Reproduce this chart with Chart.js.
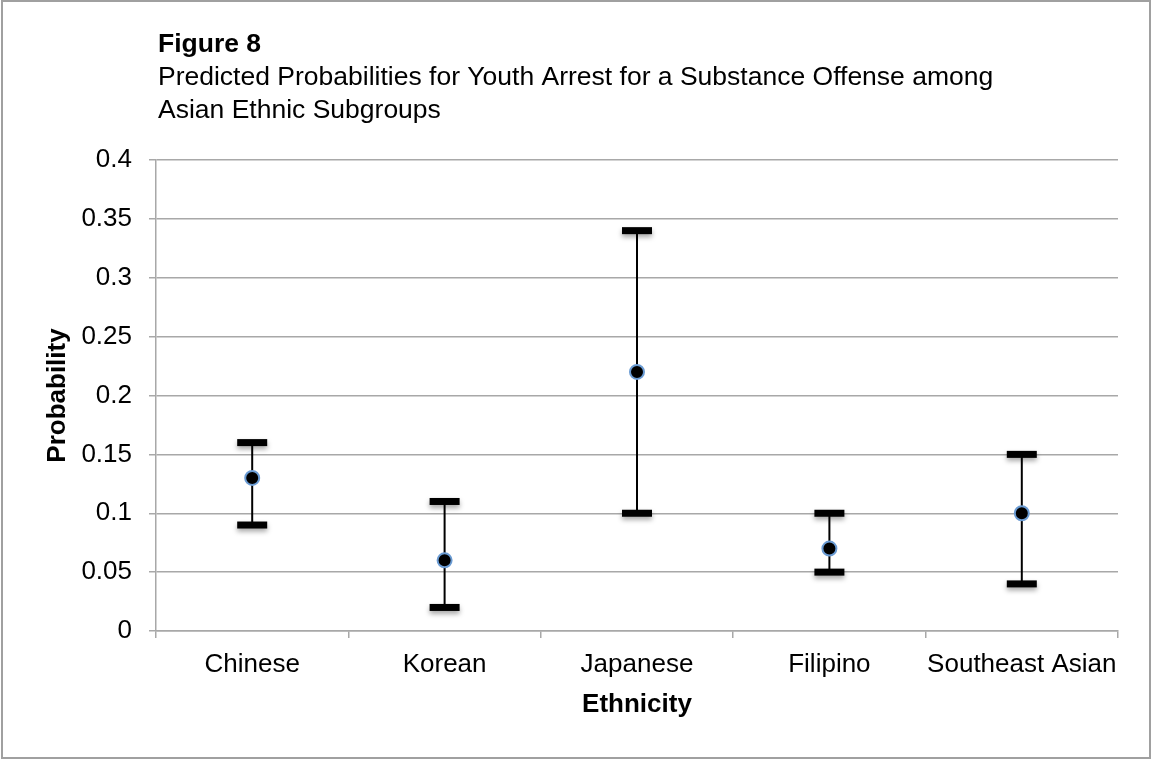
<!DOCTYPE html>
<html>
<head>
<meta charset="utf-8">
<title>Figure 8</title>
<script src="https://cdn.jsdelivr.net/npm/chart.js@4"></script>
<style>
  html, body { margin: 0; padding: 0; background: #fff; }
  canvas { display: block; }
</style>
</head>
<body>
<canvas id="chart" width="1152" height="759"></canvas>
<script>
// Predicted probabilities with lower / upper bounds per subgroup
const categories = ['Chinese', 'Korean', 'Japanese', 'Filipino', 'Southeast Asian'];
const predicted  = [0.13, 0.06, 0.22, 0.07, 0.10];
const lowerBound = [0.09, 0.02, 0.10, 0.05, 0.04];
const upperBound = [0.16, 0.11, 0.34, 0.10, 0.15];

const figureLabel = 'Figure 8';
const subtitleLines = [
  'Predicted Probabilities for Youth Arrest for a Substance Offense among',
  'Asian Ethnic Subgroups'
];
const yAxisTitle = 'Probability';
const xAxisTitle = 'Ethnicity';

const FONT = '"Liberation Sans", Arial, Helvetica, sans-serif';
const GRID = '#a8a8a8';

// White page with a thin gray frame and the figure heading
const framePlugin = {
  id: 'frame',
  beforeDraw(chart) {
    const ctx = chart.ctx;
    ctx.save();
    ctx.fillStyle = '#ffffff';
    ctx.fillRect(0, 0, chart.width, chart.height);
    ctx.strokeStyle = '#a0a0a0';
    ctx.lineWidth = 2;
    ctx.strokeRect(2, 1, chart.width - 4, chart.height - 2);
    ctx.fillStyle = '#000000';
    ctx.textBaseline = 'alphabetic';
    ctx.textAlign = 'left';
    ctx.font = 'bold 26.5px ' + FONT;
    ctx.fillText(figureLabel, 158, 52);
    ctx.font = '26.5px ' + FONT;
    subtitleLines.forEach((line, i) => ctx.fillText(line, 158, 85 + i * 33));
    ctx.restore();
  }
};

// Vertical range line with thick end caps, drawn beneath the markers
const errorBarPlugin = {
  id: 'errorBars',
  beforeDatasetsDraw(chart) {
    const ctx = chart.ctx;
    const x = chart.scales.x;
    const y = chart.scales.y;
    ctx.save();
    categories.forEach((c, i) => {
      const px = x.getPixelForValue(i);
      const yLo = y.getPixelForValue(lowerBound[i]);
      const yHi = y.getPixelForValue(upperBound[i]);
      ctx.strokeStyle = '#000000';
      ctx.lineWidth = 2;
      ctx.beginPath();
      ctx.moveTo(px, yHi);
      ctx.lineTo(px, yLo);
      ctx.stroke();
      ctx.save();
      ctx.shadowColor = 'rgba(0,0,0,0.35)';
      ctx.shadowBlur = 5;
      ctx.shadowOffsetY = 3;
      ctx.fillStyle = '#000000';
      [yHi, yLo].forEach(py => ctx.fillRect(px - 15, py - 3.5, 30, 7));
      ctx.restore();
    });
    ctx.restore();
  }
};

new Chart(document.getElementById('chart'), {
  type: 'line',
  data: {
    labels: categories,
    datasets: [{
      label: 'Predicted probability',
      data: predicted,
      showLine: false,
      pointRadius: 7,
      pointHoverRadius: 7,
      pointBackgroundColor: '#000000',
      pointBorderColor: '#6a9bd3',
      pointBorderWidth: 2
    }]
  },
  options: {
    responsive: false,
    animation: false,
    devicePixelRatio: 1,
    layout: { padding: { top: 160, right: 34, left: 0, bottom: 0 } },
    plugins: {
      legend: { display: false },
      tooltip: { enabled: false }
    },
    scales: {
      x: {
        type: 'category',
        offset: true,
        afterFit(scale) { scale.height = 128; },
        grid: {
          offset: true,
          drawOnChartArea: false,
          drawTicks: true,
          tickLength: 7,
          color: GRID,
          lineWidth: 1.5
        },
        border: { display: true, color: GRID, width: 1.5 },
        ticks: {
          color: '#000000',
          font: { family: FONT, size: 26 },
          padding: 11,
          maxRotation: 0,
          autoSkip: false
        },
        title: {
          display: true,
          text: xAxisTitle,
          color: '#000000',
          font: { family: FONT, size: 26, weight: 'bold' },
          padding: { top: 0, bottom: 39 }
        }
      },
      y: {
        min: 0,
        max: 0.4,
        afterFit(scale) { scale.width = 156; },
        grid: {
          color: GRID,
          lineWidth: 1.5,
          tickLength: 7
        },
        border: { display: true, color: GRID, width: 1.5 },
        ticks: {
          stepSize: 0.05,
          color: '#000000',
          font: { family: FONT, size: 26 },
          padding: 17,
          callback: v => String(Number(v.toFixed(2)))
        },
        title: {
          display: true,
          text: yAxisTitle,
          color: '#000000',
          font: { family: FONT, size: 26, weight: 'bold' },
          padding: { top: 42, bottom: 0 }
        }
      }
    }
  },
  plugins: [framePlugin, errorBarPlugin]
});
</script>
</body>
</html>
